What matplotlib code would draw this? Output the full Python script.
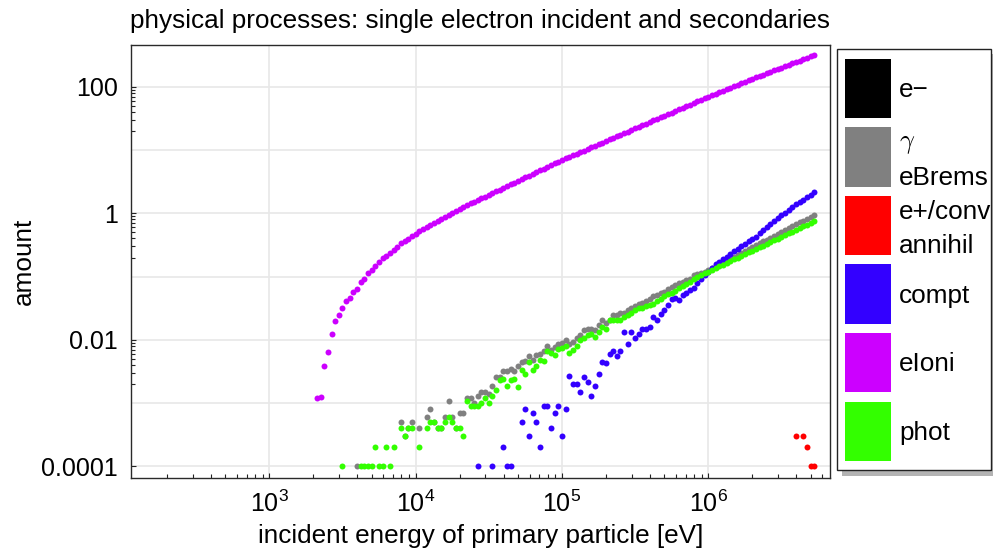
import numpy as np
import matplotlib
matplotlib.use("Agg")
import matplotlib.pyplot as plt
from matplotlib.patches import Rectangle
from matplotlib.ticker import FixedLocator, FixedFormatter, NullFormatter

# ---------------- data ----------------
energy_eV = [
    2114, 2239, 2371, 2512, 2661, 2818, 2985, 3162, 3350, 3548,
    3758, 3981, 4217, 4467, 4732, 5012, 5309, 5623, 5957, 6310,
    6683, 7079, 7499, 7943, 8414, 8913, 9441,
    10000, 10590, 11220, 11890, 12590, 13340, 14130, 14960, 15850, 16790,
    17780, 18840, 19950, 21130, 22390, 23710, 25120, 26610, 28180, 29850,
    31620, 33500, 35480, 37580, 39810, 42170, 44670, 47320, 50120, 53090,
    56230, 59570, 63100, 66830, 70790, 74990, 79430, 84140, 89130, 94410,
    100000, 105900, 112200, 118900, 125900, 133400, 141300, 149600, 158500, 167900,
    177800, 188400, 199500, 211300, 223900, 237100, 251200, 266100, 281800, 298500,
    316200, 335000, 354800, 375800, 398100, 421700, 446700, 473200, 501200, 530900,
    562300, 595700, 631000, 668300, 707900, 749900, 794300, 841400, 891300, 944100,
    1000000, 1059000, 1122000, 1189000, 1259000, 1334000, 1413000, 1496000, 1585000, 1679000,
    1778000, 1884000, 1995000, 2113000, 2239000, 2371000, 2512000, 2661000, 2818000, 2985000,
    3162000, 3350000, 3548000, 3758000, 3981000, 4217000, 4467000, 4732000, 5012000, 5309000,
]

eIoni = [
    0.00119, 0.00126, 0.0038, 0.00646, 0.0123, 0.020, 0.0245, 0.0316, 0.0407, 0.0457,
    0.0562, 0.0646, 0.0813, 0.0933, 0.1135, 0.129, 0.148, 0.170, 0.195, 0.209,
    0.234, 0.263, 0.295, 0.335, 0.363, 0.398, 0.437, 0.475, 0.517, 0.560,
    0.607, 0.658, 0.705, 0.755, 0.810, 0.877, 0.948, 1.018, 1.090, 1.170,
    1.259, 1.349, 1.445, 1.531, 1.622, 1.726, 1.839, 1.959, 2.087, 2.223,
    2.369, 2.523, 2.689, 2.864, 3.051, 3.251, 3.463, 3.690, 3.931, 4.188,
    4.462, 4.753, 5.064, 5.395, 5.748, 6.124, 6.524, 6.950, 7.362, 7.798,
    8.260, 8.750, 9.268, 9.817, 10.40, 11.02, 11.67, 12.36, 13.09, 13.87,
    14.69, 15.56, 16.48, 17.46, 18.49, 19.59, 20.75, 21.98, 23.28, 24.66,
    26.12, 27.67, 29.31, 31.05, 32.89, 34.83, 36.90, 39.08, 41.40, 43.85,
    46.45, 49.20, 52.12, 55.21, 58.48, 61.94, 65.61, 69.50, 73.45, 77.62,
    82.04, 86.60, 91.41, 96.49, 101.9, 107.4, 113.2, 119.4, 125.9, 132.7,
    140.0, 147.2, 155.2, 163.3, 172.2, 181.1, 190.5, 200.4, 210.9, 221.8,
    233.3, 245.5, 258.2, 271.6, 285.8, 300.6, 316.2,
]

eBrems_gamma = [
    0, 0, 0, 0, 0, 0, 0, 0, 0, 0,
    0, 0.0001, 0, 0, 0, 0, 0, 0, 0, 0,
    0, 0, 0, 0.0005, 0.0003, 0.0004, 0.0005, 0, 0.0004, 0,
    0.0006, 0.0008, 0.0005, 0.0004, 0.0004, 0.0006, 0.0011, 0.0006, 0.0004, 0.0007,
    0.0007, 0.0012, 0.0012, 0.0010, 0.0013, 0.0015, 0.0015, 0.0014, 0.0019, 0.0026,
    0.0026, 0.0032, 0.0032, 0.0035, 0.0032, 0.0038, 0.0044, 0.0046, 0.0055, 0.0048,
    0.0058, 0.0060, 0.0066, 0.0079, 0.0069, 0.0076, 0.0087, 0.0089, 0.0098, 0.0087,
    0.0093, 0.0107, 0.0120, 0.0145, 0.0148, 0.0151, 0.0145, 0.0174, 0.0209, 0.0182,
    0.0204, 0.0245, 0.0245, 0.0263, 0.0269, 0.0302, 0.0324, 0.0339, 0.0363, 0.0389,
    0.0407, 0.0437, 0.0501, 0.0513, 0.0550, 0.0575, 0.0631, 0.0676, 0.0724, 0.0794,
    0.0832, 0.0871, 0.0933, 0.105, 0.110, 0.115, 0.120, 0.127, 0.136, 0.146,
    0.157, 0.168, 0.180, 0.193, 0.207, 0.221, 0.237, 0.254, 0.272, 0.292,
    0.313, 0.335, 0.359, 0.385, 0.412, 0.442, 0.473, 0.507, 0.543, 0.582,
    0.624, 0.668, 0.716, 0.767, 0.822, 0.881, 0.933,
]

phot = [
    0, 0, 0, 0, 0, 0, 0, 0.0001, 0, 0,
    0, 0, 0.0001, 0.0001, 0.0001, 0.0001, 0.0002, 0.0001, 0.0001, 0.0002,
    0.0001, 0.0002, 0, 0.0004, 0.0003, 0.0004, 0.0004, 0, 0.0002, 0,
    0.0004, 0.0005, 0.0005, 0.0004, 0.0004, 0.0005, 0.0006, 0.0005, 0.0004, 0.0004,
    0.0003, 0.0011, 0.0009, 0.0009, 0.0009, 0.0010, 0.0012, 0.0010, 0.0013, 0.0016,
    0.0023, 0.0024, 0.0019, 0.0023, 0.0024, 0.0018, 0.0034, 0.0029, 0.0044, 0.0034,
    0.0038, 0.0048, 0.0047, 0.0066, 0.0063, 0.0058, 0.0071, 0.0074, 0.0081, 0.0063,
    0.0069, 0.0081, 0.0098, 0.0107, 0.0120, 0.0126, 0.0112, 0.0135, 0.0162, 0.0148,
    0.0204, 0.0204, 0.0204, 0.0209, 0.0229, 0.0251, 0.0263, 0.0295, 0.0316, 0.0324,
    0.0339, 0.0355, 0.0372, 0.0407, 0.0447, 0.0490, 0.0525, 0.0550, 0.0603, 0.0661,
    0.0708, 0.0776, 0.0832, 0.0912, 0.0977, 0.106, 0.112, 0.120, 0.128, 0.136,
    0.145, 0.155, 0.165, 0.175, 0.187, 0.199, 0.212, 0.226, 0.241, 0.256,
    0.274, 0.291, 0.310, 0.330, 0.352, 0.375, 0.399, 0.426, 0.453, 0.483,
    0.514, 0.548, 0.583, 0.622, 0.662, 0.706, 0.750,
]

compt = [
    0, 0, 0, 0, 0, 0, 0, 0, 0, 0,
    0, 0, 0, 0, 0, 0, 0, 0, 0, 0,
    0, 0, 0, 0, 0, 0, 0, 0, 0, 0,
    0, 0, 0, 0, 0, 0, 0, 0, 0, 0,
    0, 0, 0, 0, 0.0001, 0, 0, 0, 0.0001, 0,
    0, 0.0002, 0.0001, 0.0001, 0, 0, 0.0005, 0.0008, 0.0003, 0.0007,
    0.0005, 0.0002, 0.0009, 0.0009, 0.0004, 0.0007, 0.0009, 0.0003, 0.0008, 0.0027,
    0.0020, 0.0020, 0.0015, 0.0026, 0.0022, 0.0013, 0.0019, 0.0029, 0.0044, 0.0043,
    0.0060, 0.0066, 0.0055, 0.0066, 0.0131, 0.0087, 0.0131, 0.0107, 0.0126, 0.0148,
    0.0150, 0.0160, 0.0230, 0.0210, 0.0260, 0.0300, 0.0350, 0.0445, 0.0465, 0.0420,
    0.0520, 0.0560, 0.0620, 0.0660, 0.0800, 0.0900, 0.105, 0.120, 0.138, 0.158,
    0.170, 0.187, 0.205, 0.228, 0.250, 0.275, 0.310, 0.330, 0.365, 0.390,
    0.430, 0.480, 0.550, 0.600, 0.670, 0.750, 0.840, 0.930, 1.02, 1.12,
    1.24, 1.38, 1.50, 1.62, 1.78, 1.97, 2.20,
]

annihil_energy_eV = [3981000, 4467000, 4732000, 5012000, 5309000]
annihil = [0.0003, 0.0003, 0.0002, 0.0001, 0.0001]

series_names = ["e\u2212", "\u03b3\neBrems", "e+/conv\nannihil", "compt", "eIoni", "phot"]
series_colors = ["#000000", "#808080", "#ff0000", "#3300ff", "#cc00ff", "#33ff00"]

x_major = [1e3, 1e4, 1e5, 1e6]
x_major_labels = [r"$\mathregular{10^{3}}$", r"$\mathregular{10^{4}}$",
                  r"$\mathregular{10^{5}}$", r"$\mathregular{10^{6}}$"]
y_major = [1e-4, 1e-2, 1, 100]
y_major_labels = ["0.0001", "0.01", "1", "100"]

# ---------------- style ----------------
plt.rcParams["font.family"] = ["Liberation Sans", "DejaVu Sans"]
plt.rcParams["mathtext.fontset"] = "custom"
plt.rcParams["mathtext.rm"] = "Liberation Sans"
plt.rcParams["mathtext.it"] = "Liberation Sans:italic"
plt.rcParams["mathtext.bf"] = "Liberation Sans:bold"

W, H = 993, 552
fig = plt.figure(figsize=(W / 100, H / 100), dpi=100)


def fx(px):
    return px / W


def fy(py):
    return 1 - py / H


L, R, T, B = 131, 830, 45, 478
ax = fig.add_axes([fx(L), fy(B), fx(R) - fx(L), fy(T) - fy(B)])
ax.set_xscale("log")
ax.set_yscale("log")
ax.set_xlim(113.4, 6.79e6)
ax.set_ylim(6.58e-5, 456)

# grid lines every decade
for d in [1e3, 1e4, 1e5, 1e6]:
    ax.axvline(d, color="#e8e8e8", lw=1.2, zorder=0)
for d in [1e-4, 1e-3, 1e-2, 1e-1, 1, 10, 100]:
    ax.axhline(d, color="#e8e8e8", lw=1.2, zorder=0)

E = np.array(energy_eV, dtype=float)
mstyle = dict(ls="none", marker="o", ms=4.3, mew=0, zorder=3)


def draw(values, color, xs=E):
    v = np.array(values, dtype=float)
    m = v > 0
    ax.plot(np.asarray(xs, dtype=float)[m], v[m], color=color, **mstyle)


# series in legend order (phot drawn last, on top)
draw(eBrems_gamma, series_colors[1])
draw(annihil, series_colors[2], annihil_energy_eV)
draw(compt, series_colors[3])
draw(eIoni, series_colors[4])
draw(phot, series_colors[5])

ax.xaxis.set_major_locator(FixedLocator(x_major))
ax.xaxis.set_major_formatter(FixedFormatter(x_major_labels))
ax.xaxis.set_minor_locator(FixedLocator([k * 10.0 ** e for e in range(2, 7) for k in range(2, 10)]))
ax.xaxis.set_minor_formatter(NullFormatter())
ax.yaxis.set_major_locator(FixedLocator(y_major))
ax.yaxis.set_major_formatter(FixedFormatter(y_major_labels))
ax.yaxis.set_minor_locator(FixedLocator([k * 10.0 ** e for e in (-3, -1, 1) for k in range(2, 10)]))
ax.yaxis.set_minor_formatter(NullFormatter())

ax.tick_params(which="both", direction="in", top=False, right=False, width=0.8, color="#222222")
ax.tick_params(which="major", length=3.8)
ax.tick_params(which="minor", length=2.6)
ax.tick_params(axis="y", which="major", pad=9.4, labelsize=18)
ax.tick_params(axis="x", which="major", pad=9, labelsize=18)
for s in ax.spines.values():
    s.set_color("#2a2a2a")
    s.set_linewidth(1.0)

fig.text(fx((L + R) / 2), fy(21), "physical processes: single electron incident and secondaries",
         ha="center", va="center", fontsize=18.8)
fig.text(fx((L + R) / 2), fy(536), "incident energy of primary particle [eV]",
         ha="center", va="center", fontsize=18.8)
fig.text(fx(24), fy((T + B) / 2), "amount", rotation=90, ha="center", va="center", fontsize=18.8)

# ---------------- legend ----------------
lax = fig.add_axes([0, 0, 1, 1], zorder=5)
lax.set_xlim(0, W)
lax.set_ylim(H, 0)
lax.axis("off")
lax.add_patch(Rectangle((842, 54), 160, 422, facecolor="#b3b3b3", edgecolor="none"))
lax.add_patch(Rectangle((836.5, 48.5), 154, 421.5, facecolor="white", edgecolor="#222222", lw=1.0))
for k, (name, color) in enumerate(zip(series_names, series_colors)):
    top = 58.5 + k * 68.6
    lax.add_patch(Rectangle((845, top), 46, 59.5, facecolor=color, edgecolor="none"))
    lines = name.split("\n")
    if len(lines) == 1:
        lax.text(899, top + 38.5, lines[0], ha="left", va="baseline", fontsize=18.8)
    else:
        if lines[0] == "\u03b3":
            lax.text(899, top + 21, r"$\gamma$", ha="left", va="baseline", fontsize=18.8,
                     math_fontfamily="cm")
        else:
            lax.text(899, top + 23, lines[0], ha="left", va="baseline", fontsize=18.8)
        lax.text(899, top + 57.5, lines[1], ha="left", va="baseline", fontsize=18.8)

fig.savefig("out.png", dpi=100)
